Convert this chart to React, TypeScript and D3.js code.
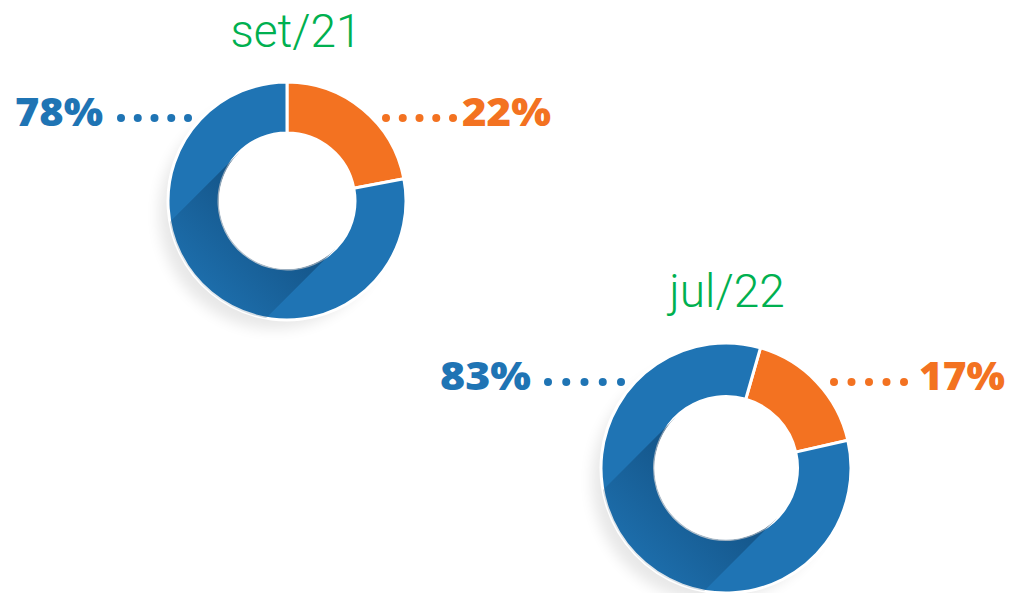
import React from "react";
import * as d3 from "d3";

const titles = ["set/21", "jul/22"];
const blueValues = [78, 83];
const orangeValues = [22, 17];
const blueLabels = ["78%", "83%"];
const orangeLabels = ["22%", "17%"];

const BLUE = "#1f74b4";
const ORANGE = "#f37221";
const GREEN = "#00b050";

const layouts = [
  { cx: 287, cy: 201, ro: 119, ri: 68, rot: 0, titleX: 296, titleY: 47, labelY: 118, blueEnd: 103, blueW: 88, blueDots: [121, 188], orangeDots: [386, 453], orangeStart: 462, orangeW: 89 },
  { cx: 726, cy: 468, ro: 125, ri: 71.5, rot: 16, titleX: 727, titleY: 307, labelY: 382, blueEnd: 531, blueW: 91, blueDots: [548, 621], orangeDots: [834, 904], orangeStart: 919, orangeW: 86 },
];

function Donut({ i }: { i: number }) {
  const L = layouts[i];
  const data = [
    { key: "orange", value: orangeValues[i], color: ORANGE },
    { key: "blue", value: blueValues[i], color: BLUE },
  ];
  const rot = (L.rot * Math.PI) / 180;
  const pie = d3
    .pie<any>()
    .value((d) => d.value)
    .sort(null)
    .startAngle(rot)
    .endAngle(rot + 2 * Math.PI);
  const arcs = pie(data);
  const arc = d3.arc<any>().innerRadius(L.ri).outerRadius(L.ro);
  const ringPath = d3.arc<any>().innerRadius(L.ri).outerRadius(L.ro)({ startAngle: 0, endAngle: 2 * Math.PI } as any) as string;

  const s = Math.SQRT1_2;
  const n = [s, s];
  const dvec = [-s, s];
  const len = L.ro * 2;
  const pts = [
    [n[0] * L.ri, n[1] * L.ri],
    [n[0] * L.ri + dvec[0] * len, n[1] * L.ri + dvec[1] * len],
    [-n[0] * L.ri + dvec[0] * len, -n[1] * L.ri + dvec[1] * len],
    [-n[0] * L.ri, -n[1] * L.ri],
  ];
  const band = "M" + pts.map((p) => p.join(",")).join("L") + "Z";

  const dots = (x0: number, x1: number) => d3.range(5).map((k) => x0 + ((x1 - x0) * k) / 4);

  return (
    <g>
      <defs>
        <clipPath id={`ring${i}`}>
          <path d={ringPath} />
        </clipPath>
        <linearGradient id={`sh${i}`} gradientUnits="userSpaceOnUse" x1={0} y1={0} x2={-L.ro * 0.8} y2={L.ro * 0.8}>
          <stop offset="0" stopColor="#0b3a63" stopOpacity={0.6} />
          <stop offset="0.55" stopColor="#0b3a63" stopOpacity={0.3} />
          <stop offset="1" stopColor="#0b3a63" stopOpacity={0.05} />
        </linearGradient>
        <filter id={`blur${i}`} x="-50%" y="-50%" width="200%" height="200%">
          <feGaussianBlur stdDeviation={7} />
        </filter>
      </defs>
      <text x={L.titleX} y={L.titleY} textAnchor="middle" fill={GREEN} fontFamily="Roboto" fontWeight={300} fontSize={46}>
        {titles[i]}
      </text>
      <g transform={`translate(${L.cx},${L.cy})`}>
        <circle cx={-13} cy={13} r={L.ro - 4} fill="#000" opacity={0.09} filter={`url(#blur${i})`} />
        {arcs.map((a) => (
          <path key={a.data.key} d={arc(a) as string} fill={a.data.color} stroke="#fff" strokeWidth={3} />
        ))}
        <g clipPath={`url(#ring${i})`}>
          <path d={band} fill={`url(#sh${i})`} />
        </g>
        <circle r={L.ri} fill="#fff" />
      </g>
      <text x={L.blueEnd - L.blueW} y={L.labelY + 8} textLength={L.blueW} lengthAdjust="spacingAndGlyphs" fill={BLUE} fontFamily="Open Sans" fontWeight={800} fontSize={38}>
        {blueLabels[i]}
      </text>
      {dots(L.blueDots[0], L.blueDots[1]).map((x, k) => (
        <circle key={"b" + k} cx={x} cy={L.labelY} r={4} fill={BLUE} />
      ))}
      {dots(L.orangeDots[0], L.orangeDots[1]).map((x, k) => (
        <circle key={"o" + k} cx={x} cy={L.labelY} r={4} fill={ORANGE} />
      ))}
      <text x={L.orangeStart} y={L.labelY + 8} textLength={L.orangeW} lengthAdjust="spacingAndGlyphs" fill={ORANGE} fontFamily="Open Sans" fontWeight={800} fontSize={38}>
        {orangeLabels[i]}
      </text>
    </g>
  );
}

export default function App() {
  return (
    <svg width={1015} height={593} style={{ position: "absolute", left: 0, top: 0, background: "#fff" }}>
      {titles.map((_, i) => (
        <Donut key={i} i={i} />
      ))}
    </svg>
  );
}
